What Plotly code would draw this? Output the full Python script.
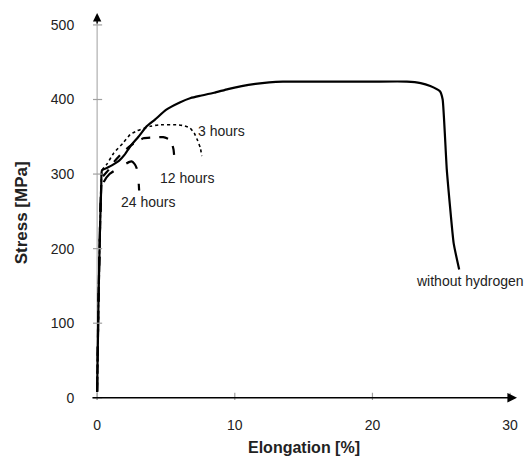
import plotly.graph_objects as go

# ---- data ----
wo_x = [0.0, 0.1, 0.2, 0.3, 0.35, 0.8, 1.1, 1.6, 2.0, 2.4, 3.0, 3.6, 4.2, 5.0, 6.0, 6.8, 7.5, 8.5,
        9.5, 10.5, 11.5, 12.5, 13.5, 15.0, 17.0, 20.0, 22.5, 23.5, 24.2, 24.9, 25.1, 25.4, 25.9, 26.3]
wo_y = [8, 130, 220, 285, 305, 309, 312, 318, 326, 337, 350, 364, 373, 386, 396, 402, 405, 409,
        414, 418, 421, 423, 424, 424, 424, 424, 424, 422, 418, 411, 400, 306, 207, 172]

h3_x = [0.0, 0.1, 0.2, 0.3, 0.35, 0.7, 1.2, 1.9, 2.4, 2.9, 3.84, 4.5, 5.8, 6.3, 6.74, 7.05, 7.3, 7.5, 7.6]
h3_y = [8, 130, 220, 285, 305, 313, 328, 342, 353, 358, 364, 366, 366, 365, 362, 355, 345, 335, 324]

h12_x = [0.0, 0.1, 0.2, 0.3, 0.35, 0.8, 1.3, 1.9, 2.64, 3.36, 4.0, 4.8, 5.2, 5.43, 5.55, 5.6, 5.62]
h12_y = [8, 130, 220, 285, 295, 305, 318, 330, 341, 348, 349, 349.5, 347, 341, 333, 324, 318]

h24_x = [0.0, 0.1, 0.2, 0.3, 0.5, 0.9, 1.3, 1.9, 2.3, 2.5, 2.7, 2.87, 2.97, 3.03, 3.05]
h24_y = [8, 130, 220, 280, 290, 300, 305, 312, 316, 317, 314, 308, 298, 285, 278]

x_ticks = [0, 10, 20, 30]
y_ticks = [0, 100, 200, 300, 400, 500]

labels = ["without hydrogen", "3 hours", "12 hours", "24 hours"]
label_x = [23.0, 7.2, 4.4, 1.6]
label_y = [156, 358, 295, 263]

# ---- layout constants (page body adds an 8 px offset) ----
OFF = 8
W, H = 532 - OFF, 459 - OFF
L, R, T, B = 93.2 - OFF, 15, 13 - OFF, 58.8
XR = [-0.3, 30.5]
YR = [-3, 516]
FONT = "Arial, Liberation Sans, sans-serif"
TXT = "#222222"

fig = go.Figure()
series = [
    (wo_x, wo_y, "solid", 2.2),
    (h3_x, h3_y, "dot", 1.6),
    (h12_x, h12_y, "dash", 2.2),
    (h24_x, h24_y, "longdash", 2.2),
]
for (xs, ys, dash, w), name in zip(series, labels):
    fig.add_trace(go.Scatter(x=xs, y=ys, mode="lines", name=name,
                             line=dict(color="black", width=w, dash=dash, shape="spline", smoothing=0.4),
                             showlegend=False, hoverinfo="skip"))

shapes = []
shapes.append(dict(type="line", xref="x", yref="y", x0=0, x1=0, y0=-4, y1=505,
                   line=dict(color="#b0b0b0", width=1.2), layer="below"))
for v in y_ticks:
    shapes.append(dict(type="line", xref="x", yref="y", xsizemode="pixel", xanchor=0,
                       x0=-5, x1=5, y0=v, y1=v, line=dict(color="#a0a0a0", width=1.2)))
for v in x_ticks:
    shapes.append(dict(type="line", xref="x", yref="y", ysizemode="pixel", yanchor=0,
                       x0=v, x1=v, y0=-5, y1=5, line=dict(color="#a0a0a0", width=1.2)))

annotations = []
annotations.append(dict(x=30.5, y=0, ax=-0.45, ay=0, xref="x", yref="y", axref="x", ayref="y",
                        showarrow=True, arrowhead=2, arrowsize=1.2, arrowwidth=1.6,
                        arrowcolor="black", text=""))
annotations.append(dict(x=0, y=516, ax=0, ay=500, xref="x", yref="y", axref="x", ayref="y",
                        showarrow=True, arrowhead=2, arrowsize=1.2, arrowwidth=1.4,
                        arrowcolor="black", text=""))
for t, lx, ly in zip(labels, label_x, label_y):
    annotations.append(dict(x=lx, y=ly, xref="x", yref="y", text=t, showarrow=False,
                            xanchor="left", yanchor="middle",
                            font=dict(family=FONT, size=14, color=TXT)))

ph = H - T - B
pw = W - L - R
annotations.append(dict(x=15, y=-(448 - OFF - (H - B)) / ph, xref="x", yref="paper",
                        text="<b>Elongation [%]</b>", showarrow=False,
                        xanchor="center", yanchor="middle",
                        font=dict(family=FONT, size=16, color=TXT)))
annotations.append(dict(x=(21.7 - OFF - L) / pw, y=(H - B - (213 - OFF)) / ph, xref="paper", yref="paper",
                        text="<b>Stress [MPa]</b>", showarrow=False, textangle=-90,
                        xanchor="center", yanchor="middle",
                        font=dict(family=FONT, size=17, color=TXT)))

fig.update_layout(
    width=W, height=H,
    margin=dict(l=L, r=R, t=T, b=B, pad=0),
    paper_bgcolor="white", plot_bgcolor="white",
    shapes=shapes, annotations=annotations,
    xaxis=dict(range=XR, tickvals=x_ticks, ticktext=[str(v) for v in x_ticks],
               showgrid=False, zeroline=False, showline=False,
               ticks="outside", ticklen=12, tickcolor="rgba(0,0,0,0)",
               tickfont=dict(family=FONT, size=14, color=TXT)),
    yaxis=dict(range=YR, tickvals=y_ticks, ticktext=[str(v) for v in y_ticks],
               showgrid=False, zeroline=False, showline=False,
               ticks="outside", ticklen=15, tickcolor="rgba(0,0,0,0)",
               tickfont=dict(family=FONT, size=14, color=TXT)),
)

fig.write_html("out.html")
